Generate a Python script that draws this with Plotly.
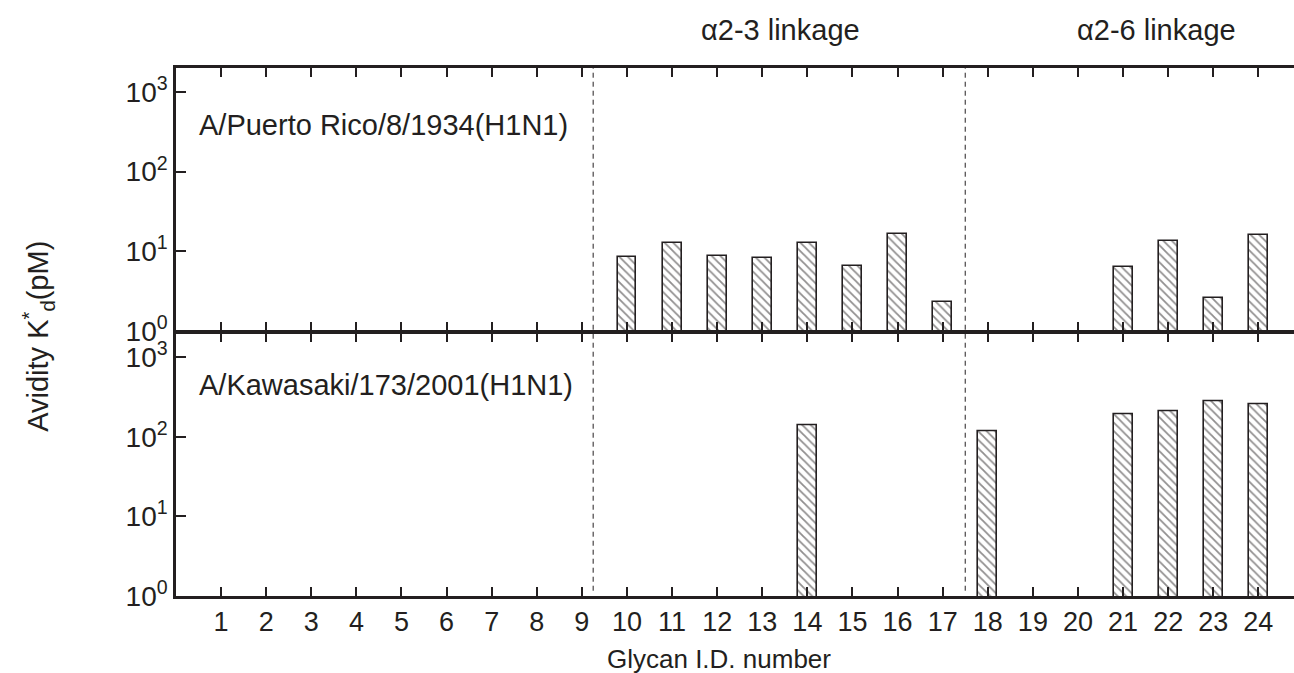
import plotly.graph_objects as go
from plotly.subplots import make_subplots

# ---------------- data ----------------
glycan_ids = list(range(1, 25))
pr8_ids = [10, 11, 12, 13, 14, 15, 16, 17, 21, 22, 23, 24]
pr8_kd = [8.4, 12.8, 8.7, 8.1, 12.6, 6.5, 16.6, 2.3, 6.3, 13.5, 2.6, 15.8]
kaw_ids = [14, 18, 21, 22, 23, 24]
kaw_kd = [140, 118, 190, 210, 280, 254]
strain_labels = ["A/Puerto Rico/8/1934(H1N1)", "A/Kawasaki/173/2001(H1N1)"]
linkage_labels = ["α2-3 linkage", "α2-6 linkage"]
linkage_label_x = [13.4, 21.75]
linkage_bounds = [9.25, 17.5]
ytick_vals = [1, 10, 100, 1000]
ytick_text = ["10<sup>0</sup>", "10<sup>1</sup>", "10<sup>2</sup>", "10<sup>3</sup>"]

INK = "#231f20"
FONT = "Liberation Sans, Arial, Helvetica, sans-serif"

fig = make_subplots(rows=2, cols=1, vertical_spacing=0)

bar_style = dict(
    color="white",
    line=dict(color=INK, width=1.6),
    pattern=dict(shape="\\", fgcolor=INK, bgcolor="white", size=6, solidity=0.3),
)

fig.add_trace(go.Bar(x=pr8_ids, y=pr8_kd, width=0.42, marker=bar_style,
                     showlegend=False), row=1, col=1)
fig.add_trace(go.Bar(x=kaw_ids, y=kaw_kd, width=0.42, marker=bar_style,
                     showlegend=False), row=2, col=1)

xcommon = dict(
    range=[0, 24.79], tickvals=glycan_ids, ticktext=[str(g) for g in glycan_ids],
    showline=True, linecolor=INK, linewidth=2.5, mirror="ticks",
    ticks="inside", ticklen=9, tickwidth=2, tickcolor=INK,
    showgrid=False, zeroline=False,
    tickfont=dict(family=FONT, size=27, color=INK),
)
fig.update_xaxes(**xcommon, showticklabels=False, row=1, col=1)
fig.update_xaxes(**xcommon, showticklabels=True, row=2, col=1)

ycommon = dict(
    type="log", range=[0, 3.3], tickvals=ytick_vals, ticktext=ytick_text,
    showline=True, linecolor=INK, linewidth=2.5, mirror=False,
    ticks="inside", ticklen=10, tickwidth=2, tickcolor=INK,
    showgrid=False, zeroline=False,
    tickfont=dict(family=FONT, size=28, color=INK),
)
fig.update_yaxes(**ycommon, domain=[0.5024, 1.0], row=1, col=1)
fig.update_yaxes(**ycommon, domain=[0.0, 0.4976], row=2, col=1)

# dashed linkage boundaries
for xb in linkage_bounds:
    fig.add_shape(type="line", xref="x", yref="paper", x0=xb, x1=xb, y0=0.01, y1=1,
                  line=dict(color=INK, width=1, dash="5px,4px"), layer="below")

annotations = []
for lab, lx in zip(linkage_labels, linkage_label_x):
    annotations.append(dict(text=lab, xref="x", yref="paper", x=lx, y=1.072,
                            xanchor="center", yanchor="middle", showarrow=False,
                            font=dict(family=FONT, size=29, color=INK)))
for lab, ly in zip(strain_labels, [0.892, 0.400]):
    annotations.append(dict(text=lab, xref="paper", yref="paper", x=0.0188, y=ly,
                            xanchor="left", yanchor="middle", showarrow=False,
                            font=dict(family=FONT, size=29, color=INK)))
annotations.append(dict(text="Avidity K<sup>*</sup><sub>d</sub>(pM)", xref="paper", yref="paper",
                        x=-0.1234, y=0.491, textangle=-90, xanchor="center", yanchor="middle",
                        showarrow=False, font=dict(family=FONT, size=29, color=INK)))
annotations.append(dict(text="Glycan I.D. number", xref="paper", yref="paper",
                        x=0.486, y=-0.1195, xanchor="center", yanchor="middle",
                        showarrow=False, font=dict(family=FONT, size=26, color=INK)))

fig.update_layout(
    width=1294, height=673,
    margin=dict(l=176, r=0, t=68, b=77),
    paper_bgcolor="white", plot_bgcolor="white",
    annotations=annotations,
    bargap=0,
)

fig.write_html(
    "out.html",
    config={"displayModeBar": False},
    post_script="document.body.style.margin='0';document.body.style.overflow='hidden';",
)
